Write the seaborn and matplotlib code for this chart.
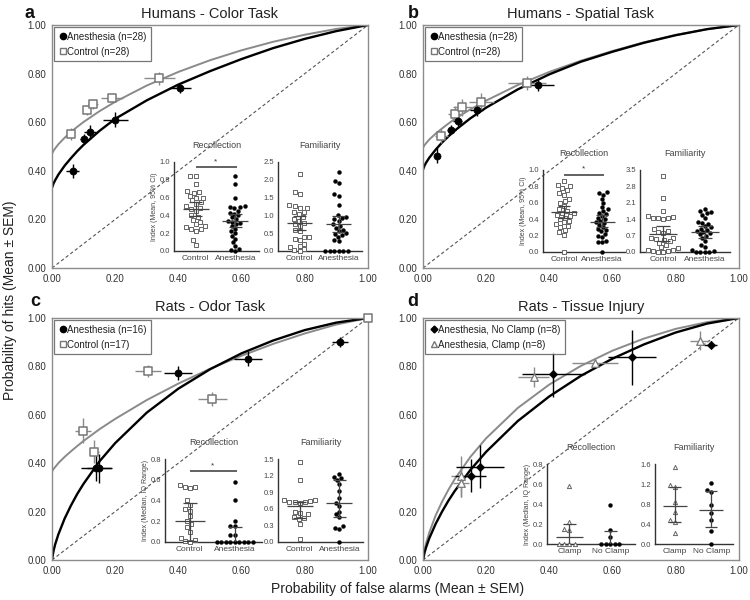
import warnings
import numpy as np
import pandas as pd
import seaborn as sns
import matplotlib.pyplot as plt
from matplotlib.lines import Line2D

warnings.filterwarnings("ignore")

sns.set_style("white")
plt.rcParams["font.family"] = ["Liberation Sans", "DejaVu Sans"]

#####################################
# ROC data
#####################################

# common false-alarm grid for fitted curves
fa_grid = [0, 0.005, 0.01, 0.02, 0.04, 0.06, 0.08, 0.1, 0.15, 0.2, 0.3, 0.4, 0.5, 0.6, 0.7, 0.8, 0.9, 1.0]

# a - Humans, color task
a_fit_ctrl = [0.47, 0.483, 0.492, 0.509, 0.536, 0.56, 0.581, 0.601, 0.645, 0.684, 0.751, 0.807, 0.855, 0.896, 0.931, 0.96, 0.984, 1.0]
a_fit_anes = [0.33, 0.348, 0.361, 0.384, 0.421, 0.452, 0.481, 0.507, 0.564, 0.614, 0.69, 0.755, 0.81, 0.86, 0.905, 0.943, 0.975, 1.0]
a_ctrl_fa = [0.06, 0.11, 0.13, 0.19, 0.34]
a_ctrl_hit = [0.55, 0.65, 0.675, 0.70, 0.78]
a_ctrl_fa_err = [0.01, 0.01, 0.015, 0.035, 0.05]
a_ctrl_hit_err = [0.025, 0.02, 0.02, 0.02, 0.025]
a_anes_fa = [0.065, 0.10, 0.12, 0.20, 0.405]
a_anes_hit = [0.40, 0.53, 0.56, 0.61, 0.74]
a_anes_fa_err = [0.02, 0.01, 0.02, 0.04, 0.035]
a_anes_hit_err = [0.03, 0.02, 0.03, 0.03, 0.02]

# b - Humans, spatial task
b_fit_ctrl = [0.495, 0.506, 0.514, 0.529, 0.553, 0.574, 0.594, 0.613, 0.653, 0.689, 0.753, 0.807, 0.853, 0.893, 0.929, 0.959, 0.983, 1.0]
b_fit_anes = [0.405, 0.422, 0.434, 0.454, 0.487, 0.516, 0.541, 0.565, 0.616, 0.66, 0.735, 0.797, 0.849, 0.89, 0.927, 0.958, 0.983, 1.0]
b_ctrl_fa = [0.058, 0.10, 0.125, 0.185, 0.33]
b_ctrl_hit = [0.543, 0.635, 0.662, 0.685, 0.762]
b_ctrl_fa_err = [0.02, 0.02, 0.03, 0.04, 0.06]
b_ctrl_hit_err = [0.03, 0.03, 0.035, 0.035, 0.03]
b_anes_fa = [0.045, 0.09, 0.11, 0.17, 0.365]
b_anes_hit = [0.463, 0.57, 0.605, 0.65, 0.753]
b_anes_fa_err = [0.01, 0.015, 0.015, 0.02, 0.05]
b_anes_hit_err = [0.03, 0.02, 0.02, 0.025, 0.025]

# c - Rats, odor task
c_fit_ctrl = [0.366, 0.376, 0.384, 0.40, 0.426, 0.449, 0.471, 0.492, 0.54, 0.583, 0.661, 0.729, 0.79, 0.844, 0.893, 0.936, 0.973, 1.0]
c_fit_anes = [0.0, 0.038, 0.064, 0.105, 0.171, 0.225, 0.273, 0.315, 0.407, 0.483, 0.609, 0.708, 0.788, 0.854, 0.907, 0.95, 0.981, 1.0]
c_ctrl_fa = [0.098, 0.134, 0.304, 0.508, 1.0]
c_ctrl_hit = [0.535, 0.448, 0.782, 0.666, 1.0]
c_ctrl_fa_err = [0.026, 0.015, 0.04, 0.045, 0.0]
c_ctrl_hit_err = [0.05, 0.048, 0.025, 0.03, 0.0]
c_anes_fa = [0.14, 0.15, 0.398, 0.621, 0.912]
c_anes_hit = [0.38, 0.38, 0.772, 0.832, 0.90]
c_anes_fa_err = [0.048, 0.04, 0.045, 0.045, 0.025]
c_anes_hit_err = [0.055, 0.06, 0.03, 0.03, 0.02]

# d - Rats, tissue injury
d_fit_clamp = [0.0, 0.042, 0.07, 0.114, 0.184, 0.24, 0.289, 0.333, 0.426, 0.503, 0.628, 0.725, 0.802, 0.865, 0.915, 0.955, 0.983, 1.0]
d_fit_noclamp = [0.0, 0.031, 0.053, 0.09, 0.149, 0.199, 0.244, 0.284, 0.372, 0.447, 0.574, 0.676, 0.761, 0.832, 0.891, 0.94, 0.977, 1.0]
d_clamp_fa = [0.12, 0.12, 0.35, 0.546, 0.877]
d_clamp_hit = [0.345, 0.32, 0.756, 0.814, 0.907]
d_clamp_fa_err = [0.03, 0.025, 0.05, 0.073, 0.03]
d_clamp_hit_err = [0.083, 0.06, 0.04, 0.01, 0.04]
d_noclamp_fa = [0.151, 0.181, 0.412, 0.661, 0.911]
d_noclamp_hit = [0.349, 0.386, 0.767, 0.837, 0.89]
d_noclamp_fa_err = [0.05, 0.076, 0.1, 0.076, 0.02]
d_noclamp_hit_err = [0.07, 0.09, 0.093, 0.114, 0.015]

#####################################
# Inset data (individual indices)
#####################################

a_rec_ctrl = [0.84, 0.84, 0.75, 0.67, 0.65, 0.66, 0.62, 0.60, 0.60, 0.57, 0.55, 0.53, 0.50, 0.48,
              0.47, 0.45, 0.40, 0.38, 0.35, 0.33, 0.30, 0.28, 0.27, 0.25, 0.25, 0.23, 0.12, 0.07]
a_rec_anes = [0.84, 0.75, 0.60, 0.50, 0.49, 0.49, 0.48, 0.45, 0.43, 0.42, 0.40, 0.38, 0.36, 0.34,
              0.33, 0.31, 0.30, 0.28, 0.25, 0.22, 0.20, 0.17, 0.14, 0.10, 0.06, 0.02, 0.01, 0.00]
a_fam_ctrl = [2.15, 1.65, 1.6, 1.28, 1.25, 1.22, 1.2, 1.1, 1.1, 1.05, 0.95, 0.9, 0.85, 0.78,
              0.75, 0.7, 0.6, 0.55, 0.4, 0.38, 0.35, 0.3, 0.2, 0.15, 0.1, 0.05, 0.02, 0.0]
a_fam_anes = [2.22, 1.98, 1.9, 1.6, 1.55, 1.3, 1.0, 0.95, 0.93, 0.9, 0.85, 0.75, 0.7, 0.65,
              0.6, 0.55, 0.5, 0.48, 0.45, 0.4, 0.3, 0.28, 0.0, 0.0, 0.0, 0.0, 0.0, 0.0]
b_rec_ctrl = [0.86, 0.82, 0.80, 0.78, 0.75, 0.72, 0.70, 0.65, 0.62, 0.60, 0.56, 0.52, 0.50, 0.48,
              0.47, 0.45, 0.44, 0.42, 0.40, 0.38, 0.36, 0.34, 0.32, 0.30, 0.27, 0.24, 0.21, 0.00]
b_rec_anes = [0.73, 0.72, 0.70, 0.65, 0.60, 0.55, 0.52, 0.50, 0.48, 0.46, 0.44, 0.42, 0.40, 0.38,
              0.37, 0.35, 0.33, 0.30, 0.28, 0.27, 0.25, 0.22, 0.20, 0.18, 0.14, 0.12, 0.12, 0.00]
b_fam_ctrl = [3.25, 2.3, 1.75, 1.55, 1.5, 1.45, 1.45, 1.45, 1.4, 1.0, 0.9, 0.85, 0.8, 0.6,
              0.6, 0.55, 0.5, 0.45, 0.4, 0.3, 0.2, 0.15, 0.1, 0.1, 0.05, 0.05, 0.0, 0.0]
b_fam_anes = [1.85, 1.75, 1.72, 1.65, 1.6, 1.45, 1.3, 1.25, 1.2, 1.1, 1.05, 1.0, 0.95, 0.9,
              0.85, 0.8, 0.75, 0.7, 0.6, 0.45, 0.3, 0.2, 0.1, 0.05, 0.0, 0.0, 0.0, 0.0]
c_rec_ctrl = [0.55, 0.53, 0.53, 0.52, 0.40, 0.36, 0.32, 0.30, 0.25, 0.20, 0.17, 0.14, 0.10,
              0.04, 0.02, 0.01, 0.00]
c_rec_anes = [0.58, 0.40, 0.20, 0.15, 0.15, 0.07, 0.07, 0.0, 0.0, 0.0, 0.0, 0.0, 0.0, 0.0, 0.0, 0.0]
c_fam_ctrl = [1.45, 1.12, 0.75, 0.75, 0.74, 0.73, 0.72, 0.72, 0.70, 0.55, 0.53, 0.50, 0.45,
              0.43, 0.42, 0.33, 0.06]
c_fam_anes = [1.22, 1.18, 1.15, 1.12, 1.05, 0.92, 0.80, 0.70, 0.65, 0.55, 0.50, 0.45, 0.28,
              0.25, 0.23, 0.0]
d_rec_clamp = [0.58, 0.22, 0.15, 0.14, 0.0, 0.0, 0.0, 0.0]
d_rec_noclamp = [0.39, 0.14, 0.07, 0.0, 0.0, 0.0, 0.0, 0.0]
d_fam_clamp = [1.55, 1.18, 1.15, 0.85, 0.65, 0.48, 0.45, 0.22]
d_fam_noclamp = [1.22, 1.08, 1.05, 0.78, 0.62, 0.48, 0.27, 0.0]

# summary lines: centre (mean / median) and interval (95% CI / IQ range)
a_rec_mid, a_rec_lo, a_rec_hi = [0.47, 0.34], [0.39, 0.27], [0.55, 0.42]
a_fam_mid, a_fam_lo, a_fam_hi = [0.78, 0.75], [0.58, 0.52], [0.98, 0.97]
b_rec_mid, b_rec_lo, b_rec_hi = [0.49, 0.37], [0.42, 0.30], [0.56, 0.45]
b_fam_mid, b_fam_lo, b_fam_hi = [0.77, 0.84], [0.45, 0.60], [1.10, 1.10]
c_rec_mid, c_rec_lo, c_rec_hi = [0.20, 0.0], [0.01, 0.0], [0.38, 0.14]
c_fam_mid, c_fam_lo, c_fam_hi = [0.65, 0.71], [0.44, 0.45], [0.73, 1.12]
d_rec_mid, d_rec_lo, d_rec_hi = [0.07, 0.0], [0.0, 0.0], [0.20, 0.13]
d_fam_mid, d_fam_lo, d_fam_hi = [0.76, 0.69], [0.45, 0.34], [1.15, 1.07]

GRAY = "#8a8a8a"
FRAME = "#8c8c8c"
TXT = "#333333"

#####################################
# Helpers
#####################################

def draw_roc(ax, title, fit_a, fit_b, pts_a, pts_b, style_a, style_b, legend_labels):
    """Main ROC panel: diagonal, two fitted curves, points with SEM bars."""
    ax.plot([0, 1], [0, 1], color="#555555", lw=0.8, dashes=(3, 2.2), zorder=1)
    sns.lineplot(x=fa_grid, y=fit_b, color=GRAY, linewidth=1.4, ax=ax, zorder=2)
    sns.lineplot(x=fa_grid, y=fit_a, color="black", linewidth=1.7, ax=ax, zorder=2)

    for (fa, hit, fe, he), st, ecol in [(pts_b, style_b, GRAY), (pts_a, style_a, "black")]:
        ax.errorbar(fa, hit, xerr=fe, yerr=he, fmt="none", ecolor=ecol, elinewidth=1.0,
                    capsize=0, zorder=3, clip_on=False)
        sns.scatterplot(x=fa, y=hit, marker=st["marker"], s=st["s"], color=st["face"],
                        edgecolor=st["edge"], linewidth=st["lw"], ax=ax, zorder=4, clip_on=False)

    ax.set_xlim(0, 1)
    ax.set_ylim(0, 1)
    ticks = [0, 0.2, 0.4, 0.6, 0.8, 1.0]
    ax.set_xticks(ticks)
    ax.set_yticks(ticks)
    ax.set_xticklabels([f"{t:.2f}" for t in ticks], fontsize=7, color=TXT)
    ax.set_yticklabels([f"{t:.2f}" for t in ticks], fontsize=7, color=TXT)
    ax.tick_params(length=2, width=0.8, color=FRAME, pad=2)
    for sp in ax.spines.values():
        sp.set_color(FRAME)
        sp.set_linewidth(1.0)
    ax.set_title(title, fontsize=10.5, color="#222222", pad=5)

    handles = [
        Line2D([], [], ls="none", marker=style_a["marker"], markersize=style_a["ms"],
               markerfacecolor=style_a["face"], markeredgecolor=style_a["edge"]),
        Line2D([], [], ls="none", marker=style_b["marker"], markersize=style_b["ms"],
               markerfacecolor="white", markeredgecolor=style_b["edge"]),
    ]
    leg = ax.legend(handles, legend_labels, loc="upper left", fontsize=7, frameon=True,
                    fancybox=False, borderpad=0.45, handletextpad=0.05, handlelength=0.8,
                    labelspacing=0.5, borderaxespad=0.25)
    leg.get_frame().set_edgecolor("#555555")
    leg.get_frame().set_linewidth(0.9)
    for t in leg.get_texts():
        t.set_color("#222222")


def draw_inset(fig, rect, title, cats, vals_a, vals_b, mid, lo, hi, ymax, yticks, fmt,
               mk_a, mk_b, ylabel=None, sig=None):
    """Dot plot inset with centre line and interval bars."""
    ax = fig.add_axes(rect)
    ax.patch.set_alpha(0)
    df_a = pd.DataFrame({"group": cats[0], "value": vals_a})
    df_b = pd.DataFrame({"group": cats[1], "value": vals_b})
    sns.swarmplot(data=df_a, x="group", y="value", order=cats, marker=mk_a["marker"],
                  size=mk_a["size"], color=mk_a["face"], edgecolor=mk_a["edge"],
                  linewidth=mk_a["lw"], ax=ax, zorder=3, clip_on=False)
    sns.swarmplot(data=df_b, x="group", y="value", order=cats, marker=mk_b["marker"],
                  size=mk_b["size"], color=mk_b["face"], edgecolor=mk_b["edge"],
                  linewidth=mk_b["lw"], ax=ax, zorder=3, clip_on=False)
    for i in range(2):
        ax.hlines(mid[i], i - 0.33, i + 0.33, color="#444444", lw=0.9, zorder=4)
        ax.vlines(i, lo[i], hi[i], color="#444444", lw=0.9, zorder=4)
        ax.hlines([lo[i], hi[i]], i - 0.16, i + 0.16, color="#444444", lw=0.9, zorder=4)
    if sig is not None:
        ax.hlines(sig, 0.0, 1.05, color="#555555", lw=1.3, clip_on=False)
        ax.text(0.5, sig + ymax * 0.025, "*", ha="center", va="bottom", fontsize=6, color="#333333")
    ax.set_xlim(-0.55, 1.6)
    ax.set_ylim(0, ymax)
    ax.set_yticks(yticks)
    ax.set_yticklabels([fmt.format(t) for t in yticks], fontsize=5.5, color="#444444")
    ax.set_xticks([0, 1])
    ax.set_xticklabels(cats, fontsize=6, color="#444444")
    ax.set_xlabel("")
    ax.set_ylabel(ylabel if ylabel else "", fontsize=5, color="#444444", labelpad=1)
    ax.tick_params(length=2, width=0.8, pad=1, color="#333333")
    sns.despine(ax=ax)
    for side in ["left", "bottom"]:
        ax.spines[side].set_color("#333333")
        ax.spines[side].set_linewidth(1.0)
    ax.set_title(title, fontsize=6.5, color="#444444", pad=10)
    return ax


#####################################
# Figure
#####################################

fig = plt.figure(figsize=(7.5, 6), dpi=100)

circle = dict(marker="o", s=26, ms=4.5, face="black", edge="black", lw=0.5)
square = dict(marker="s", s=40, ms=5, face="white", edge="#777777", lw=1.1)
diamond = dict(marker="D", s=18, ms=3.5, face="black", edge="black", lw=0.5)
triangle = dict(marker="^", s=30, ms=4.5, face="white", edge="#777777", lw=0.9)

in_sq = dict(marker="s", size=2.9, face="white", edge="#666666", lw=0.7)
in_ci = dict(marker="o", size=2.8, face="black", edge="black", lw=0.3)
in_tr = dict(marker="^", size=3.0, face="white", edge="#666666", lw=0.7)

ax_a = fig.add_axes([0.0693, 0.5533, 0.4213, 0.405])
draw_roc(ax_a, "Humans - Color Task", a_fit_anes, a_fit_ctrl,
         (a_anes_fa, a_anes_hit, a_anes_fa_err, a_anes_hit_err),
         (a_ctrl_fa, a_ctrl_hit, a_ctrl_fa_err, a_ctrl_hit_err),
         circle, square, ["Anesthesia (n=28)", "Control (n=28)"])

ax_b = fig.add_axes([0.564, 0.5533, 0.421, 0.405])
draw_roc(ax_b, "Humans - Spatial Task", b_fit_anes, b_fit_ctrl,
         (b_anes_fa, b_anes_hit, b_anes_fa_err, b_anes_hit_err),
         (b_ctrl_fa, b_ctrl_hit, b_ctrl_fa_err, b_ctrl_hit_err),
         circle, square, ["Anesthesia (n=28)", "Control (n=28)"])

ax_c = fig.add_axes([0.0693, 0.0667, 0.4213, 0.4033])
draw_roc(ax_c, "Rats - Odor Task", c_fit_anes, c_fit_ctrl,
         (c_anes_fa, c_anes_hit, c_anes_fa_err, c_anes_hit_err),
         (c_ctrl_fa, c_ctrl_hit, c_ctrl_fa_err, c_ctrl_hit_err),
         circle, square, ["Anesthesia (n=16)", "Control (n=17)"])

ax_d = fig.add_axes([0.564, 0.0667, 0.421, 0.4033])
draw_roc(ax_d, "Rats - Tissue Injury", d_fit_noclamp, d_fit_clamp,
         (d_noclamp_fa, d_noclamp_hit, d_noclamp_fa_err, d_noclamp_hit_err),
         (d_clamp_fa, d_clamp_hit, d_clamp_fa_err, d_clamp_hit_err),
         diamond, triangle, ["Anesthesia, No Clamp (n=8)", "Anesthesia, Clamp (n=8)"])

hc = ["Control", "Anesthesia"]
dc = ["Clamp", "No Clamp"]

draw_inset(fig, [0.232, 0.5817, 0.1133, 0.1483], "Recollection", hc, a_rec_ctrl, a_rec_anes,
           a_rec_mid, a_rec_lo, a_rec_hi, 1.0, [0, 0.2, 0.4, 0.6, 0.8, 1.0], "{:.1f}",
           in_sq, in_ci, ylabel="Index (Mean, 95% CI)", sig=0.94)
draw_inset(fig, [0.3707, 0.5817, 0.112, 0.1483], "Familiarity", hc, a_fam_ctrl, a_fam_anes,
           a_fam_mid, a_fam_lo, a_fam_hi, 2.5, [0, 0.5, 1.0, 1.5, 2.0, 2.5], "{:.1f}",
           in_sq, in_ci)

draw_inset(fig, [0.724, 0.58, 0.1093, 0.1367], "Recollection", hc, b_rec_ctrl, b_rec_anes,
           b_rec_mid, b_rec_lo, b_rec_hi, 1.0, [0, 0.2, 0.4, 0.6, 0.8, 1.0], "{:.1f}",
           in_sq, in_ci, ylabel="Index (Mean, 95% CI)", sig=0.94)
draw_inset(fig, [0.8533, 0.58, 0.12, 0.1367], "Familiarity", hc, b_fam_ctrl, b_fam_anes,
           b_fam_mid, b_fam_lo, b_fam_hi, 3.5, [0, 0.7, 1.4, 2.1, 2.8, 3.5], "{:.1f}",
           in_sq, in_ci)

draw_inset(fig, [0.22, 0.0967, 0.1293, 0.1383], "Recollection", hc, c_rec_ctrl, c_rec_anes,
           c_rec_mid, c_rec_lo, c_rec_hi, 0.8, [0, 0.2, 0.4, 0.6, 0.8], "{:.1f}",
           in_sq, in_ci, ylabel="Index (Median, IQ Range)", sig=0.68)
draw_inset(fig, [0.3707, 0.0967, 0.1133, 0.1383], "Familiarity", hc, c_fam_ctrl, c_fam_anes,
           c_fam_mid, c_fam_lo, c_fam_hi, 1.5, [0, 0.3, 0.6, 0.9, 1.2, 1.5], "{:.1f}",
           in_sq, in_ci)

draw_inset(fig, [0.7293, 0.0933, 0.1173, 0.1333], "Recollection", dc, d_rec_clamp, d_rec_noclamp,
           d_rec_mid, d_rec_lo, d_rec_hi, 0.8, [0, 0.2, 0.4, 0.6, 0.8], "{:.1f}",
           in_tr, in_ci, ylabel="Index (Median, IQ Range)")
draw_inset(fig, [0.8733, 0.0933, 0.104, 0.1333], "Familiarity", dc, d_fam_clamp, d_fam_noclamp,
           d_fam_mid, d_fam_lo, d_fam_hi, 1.6, [0, 0.4, 0.8, 1.2, 1.6], "{:.1f}",
           in_tr, in_ci)

# panel letters and shared axis labels
for letter, x, y in [("a", 0.033, 0.978), ("b", 0.544, 0.978), ("c", 0.040, 0.497), ("d", 0.543, 0.497)]:
    fig.text(x, y, letter, fontsize=13, fontweight="bold", color="#111111", va="center")

fig.text(0.013, 0.5, "Probability of hits (Mean ± SEM)", rotation=90, va="center", ha="center",
         fontsize=10, color="#222222")
fig.text(0.53, 0.018, "Probability of false alarms (Mean ± SEM)", va="center", ha="center",
         fontsize=10, color="#222222")

fig.savefig("out.png", dpi=100)
